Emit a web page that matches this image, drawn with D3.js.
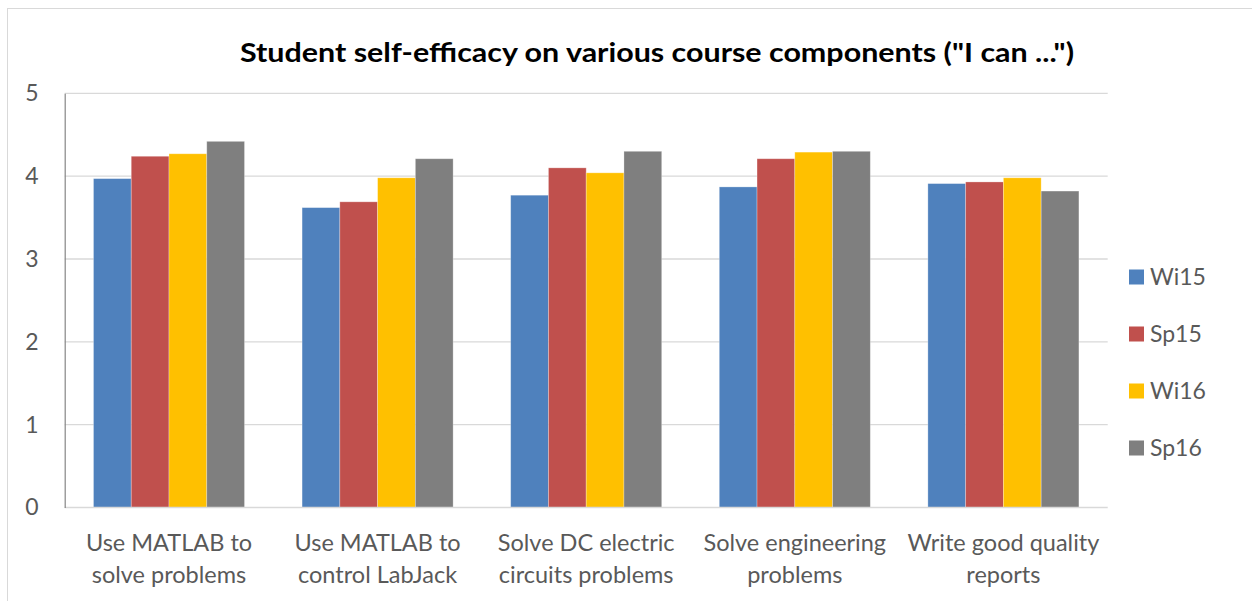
<!DOCTYPE html>
<html>
<head>
<meta charset="utf-8">
<script src="https://cdn.jsdelivr.net/npm/d3@7"></script>
<style>
  html, body { margin: 0; padding: 0; background: #fff; }
  svg { display: block; font-family: Lato, "Open Sans", sans-serif; }
</style>
</head>
<body>
<svg id="chart" width="1252" height="601"></svg>
<script>
const categories = [
  ["Use MATLAB to", "solve problems"],
  ["Use MATLAB to", "control LabJack"],
  ["Solve DC electric", "circuits problems"],
  ["Solve engineering", "problems"],
  ["Write good quality", "reports"]
];
const seriesNames = ["Wi15", "Sp15", "Wi16", "Sp16"];
const wi15 = [3.97, 3.62, 3.77, 3.87, 3.91];
const sp15 = [4.24, 3.69, 4.10, 4.21, 3.93];
const wi16 = [4.27, 3.98, 4.04, 4.29, 3.98];
const sp16 = [4.42, 4.21, 4.30, 4.30, 3.82];
const yTicks = [0, 1, 2, 3, 4, 5];
const colors = ["#4F81BD", "#C0504D", "#FFC000", "#7F7F7F"];
const title = "Student self-efficacy on various course components (\"I can ...\")";

const seriesValues = [wi15, sp15, wi16, sp16];
const catKeys = categories.map(c => c.join(" "));

const svg = d3.select("#chart");
const plot = { left: 64.7, right: 1107.7, top: 93.3, bottom: 507.5 };

// outer chart border
svg.append("rect")
  .attr("x", 7.5).attr("y", 8.5)
  .attr("width", 1260).attr("height", 620)
  .attr("fill", "none").attr("stroke", "#D9D9D9").attr("stroke-width", 1);

const x0 = d3.scaleBand().domain(catKeys)
  .range([plot.left, plot.right]).paddingInner(0.276).paddingOuter(0.138);
const x1 = d3.scaleBand().domain(seriesNames).range([0, x0.bandwidth()]);
const y = d3.scaleLinear().domain([0, 5]).range([plot.bottom, plot.top]);

// gridlines
svg.append("g").selectAll("line").data(yTicks.filter(t => t > 0)).join("line")
  .attr("x1", plot.left).attr("x2", plot.right)
  .attr("y1", d => y(d)).attr("y2", d => y(d))
  .attr("stroke", "#D9D9D9").attr("stroke-width", 1.3);

// bars
const groups = svg.append("g").selectAll("g").data(catKeys).join("g")
  .attr("transform", d => `translate(${x0(d)},0)`);
groups.selectAll("rect")
  .data((d, i) => seriesNames.map((s, j) => ({ s, v: seriesValues[j][i], c: colors[j] })))
  .join("rect")
  .attr("x", d => x1(d.s))
  .attr("width", x1.bandwidth())
  .attr("y", d => y(d.v))
  .attr("height", d => y(0) - y(d.v))
  .attr("fill", d => d.c)
  .attr("stroke", "#ffffff").attr("stroke-opacity", 0.35).attr("stroke-width", 0.8);

// x axis line
svg.append("line")
  .attr("x1", plot.left).attr("x2", plot.right)
  .attr("y1", y(0)).attr("y2", y(0))
  .attr("stroke", "#D9D9D9").attr("stroke-width", 1.3);

// y axis
const yAxis = d3.axisLeft(y).tickValues(yTicks).tickSize(0).tickPadding(26).tickFormat(d3.format("d"));
const ya = svg.append("g").attr("transform", `translate(${plot.left},0)`).call(yAxis);
ya.select(".domain").attr("stroke", "#868686").attr("stroke-width", 1.2);
ya.selectAll("text").attr("font-size", 23).attr("fill", "#595959")
  .attr("font-family", "Lato, sans-serif");

// x labels
const xa = svg.append("g");
categories.forEach((lines, i) => {
  const cx = x0(catKeys[i]) + x0.bandwidth() / 2;
  const t = xa.append("text").attr("text-anchor", "middle")
    .attr("font-size", 23.5).attr("fill", "#595959");
  lines.forEach((ln, k) => {
    t.append("tspan").attr("x", cx).attr("y", 551 + k * 32).text(ln);
  });
});

// title
svg.append("text")
  .attr("x", 657).attr("y", 62)
  .attr("text-anchor", "middle")
  .attr("font-size", 27).attr("font-weight", "bold").attr("fill", "#000")
  .attr("textLength", 834).attr("lengthAdjust", "spacingAndGlyphs")
  .text(title);

// legend
const legend = svg.append("g").selectAll("g").data(seriesNames).join("g")
  .attr("transform", (d, i) => `translate(1129, ${277 + i * 57})`);
legend.append("rect").attr("x", 0).attr("y", -7.5).attr("width", 15).attr("height", 15)
  .attr("fill", (d, i) => colors[i]);
legend.append("text").attr("x", 21).attr("y", 0).attr("dy", "0.35em")
  .attr("font-size", 23).attr("fill", "#595959").text(d => d);
</script>
</body>
</html>
